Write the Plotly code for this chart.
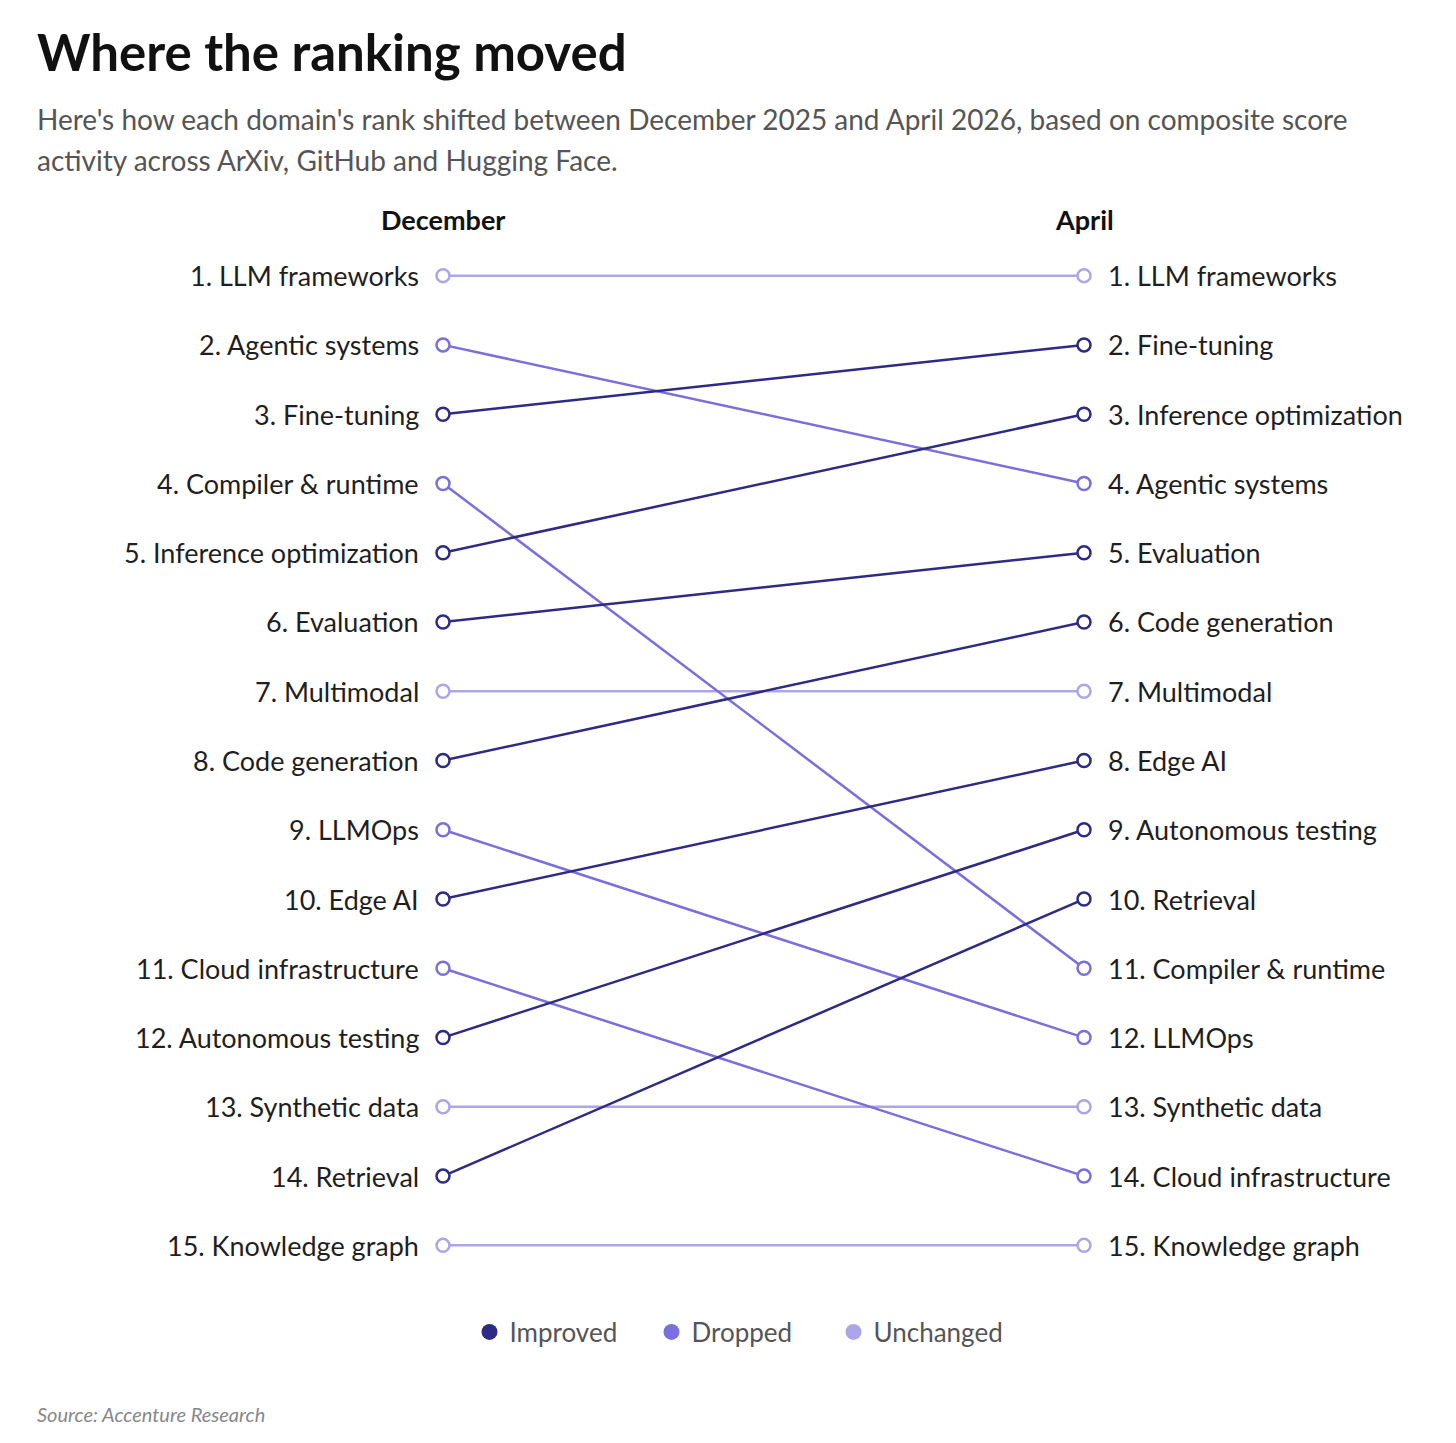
import plotly.graph_objects as go

# rank order in each month (index 0 = rank 1)
december = ["LLM frameworks", "Agentic systems", "Fine-tuning", "Compiler & runtime",
            "Inference optimization", "Evaluation", "Multimodal", "Code generation",
            "LLMOps", "Edge AI", "Cloud infrastructure", "Autonomous testing",
            "Synthetic data", "Retrieval", "Knowledge graph"]
april = ["LLM frameworks", "Fine-tuning", "Inference optimization", "Agentic systems",
         "Evaluation", "Code generation", "Multimodal", "Edge AI", "Autonomous testing",
         "Retrieval", "Compiler & runtime", "LLMOps", "Synthetic data",
         "Cloud infrastructure", "Knowledge graph"]
periods = ["December", "April"]
statuses = ["Improved", "Dropped", "Unchanged"]

colors = {"Improved": "#2e2a86", "Dropped": "#7a6fdc", "Unchanged": "#ada5ea"}
FONT = "Lato, 'Open Sans', sans-serif"

W, H = 1456, 1443
T, B = 233, 171
PH = H - T - B
OFF = 8  # page body margin


def py(y):
    # page pixel y -> paper coord
    return (H - B - (y - OFF)) / PH


def px(x):
    return (x - OFF) / W


fig = go.Figure()

# draw unchanged first so moved lines sit on top
for status in ["Unchanged", "Dropped", "Improved"]:
    for i, name in enumerate(december):
        r0 = i + 1
        r1 = april.index(name) + 1
        s = "Improved" if r1 < r0 else ("Dropped" if r1 > r0 else "Unchanged")
        if s != status:
            continue
        fig.add_trace(go.Scatter(
            x=[0, 1], y=[r0, r1], mode="lines+markers",
            line=dict(color=colors[s], width=2.5),
            marker=dict(size=13, color="white", line=dict(color=colors[s], width=2.5)),
            showlegend=False, hoverinfo="skip",
        ))

# legend entries
for s in statuses:
    fig.add_trace(go.Scatter(
        x=[None], y=[None], mode="markers", name=s,
        marker=dict(size=16, color=colors[s]),
    ))

# rank labels
for i, name in enumerate(december):
    fig.add_annotation(x=0, y=i + 1, text=f"{i + 1}. {name}", showarrow=False,
                       xanchor="right", xshift=-22, font=dict(size=27, color="#1f1f1f", family=FONT))
for i, name in enumerate(april):
    fig.add_annotation(x=1, y=i + 1, text=f"{i + 1}. {name}", showarrow=False,
                       xanchor="left", xshift=22, font=dict(size=27, color="#1f1f1f", family=FONT))

# column headers
for j, p in enumerate(periods):
    fig.add_annotation(x=j, y=py(219), yref="paper", yanchor="middle", text=f"<b>{p}</b>",
                       showarrow=False, font=dict(size=27, color="#111", family=FONT))

fig.add_annotation(xref="paper", yref="paper", x=px(35), y=py(52),
                   text="<b>Where the ranking moved</b>", showarrow=False, xanchor="left",
                   yanchor="middle", font=dict(size=51, color="#111", family=FONT))
fig.add_annotation(xref="paper", yref="paper", x=px(35), y=py(119),
                   text="Here's how each domain's rank shifted between December 2025 and April 2026, based on composite score",
                   showarrow=False, xanchor="left", yanchor="middle",
                   font=dict(size=28, color="#555", family=FONT))
fig.add_annotation(xref="paper", yref="paper", x=px(35), y=py(160),
                   text="activity across ArXiv, GitHub and Hugging Face.",
                   showarrow=False, xanchor="left", yanchor="middle",
                   font=dict(size=28, color="#555", family=FONT))
fig.add_annotation(xref="paper", yref="paper", x=px(35), y=py(1414),
                   text="<i>Source: Accenture Research</i>", showarrow=False, xanchor="left",
                   yanchor="middle", font=dict(size=20, color="#888", family=FONT))

fig.update_layout(
    width=W, height=H,
    paper_bgcolor="white", plot_bgcolor="white",
    margin=dict(l=0, r=0, t=T, b=B),
    font=dict(family=FONT),
    xaxis=dict(range=[-435 / 641, 1021 / 641], visible=False, fixedrange=True),
    yaxis=dict(range=[15.5, 0.5], visible=False, fixedrange=True),
    legend=dict(orientation="h", x=px(742.5), xanchor="center", y=py(1332), yanchor="middle",
                font=dict(size=26, color="#555", family=FONT), itemwidth=30,
                entrywidth=137, tracegroupgap=0),
    showlegend=True,
)

fig.write_html("out.html")
